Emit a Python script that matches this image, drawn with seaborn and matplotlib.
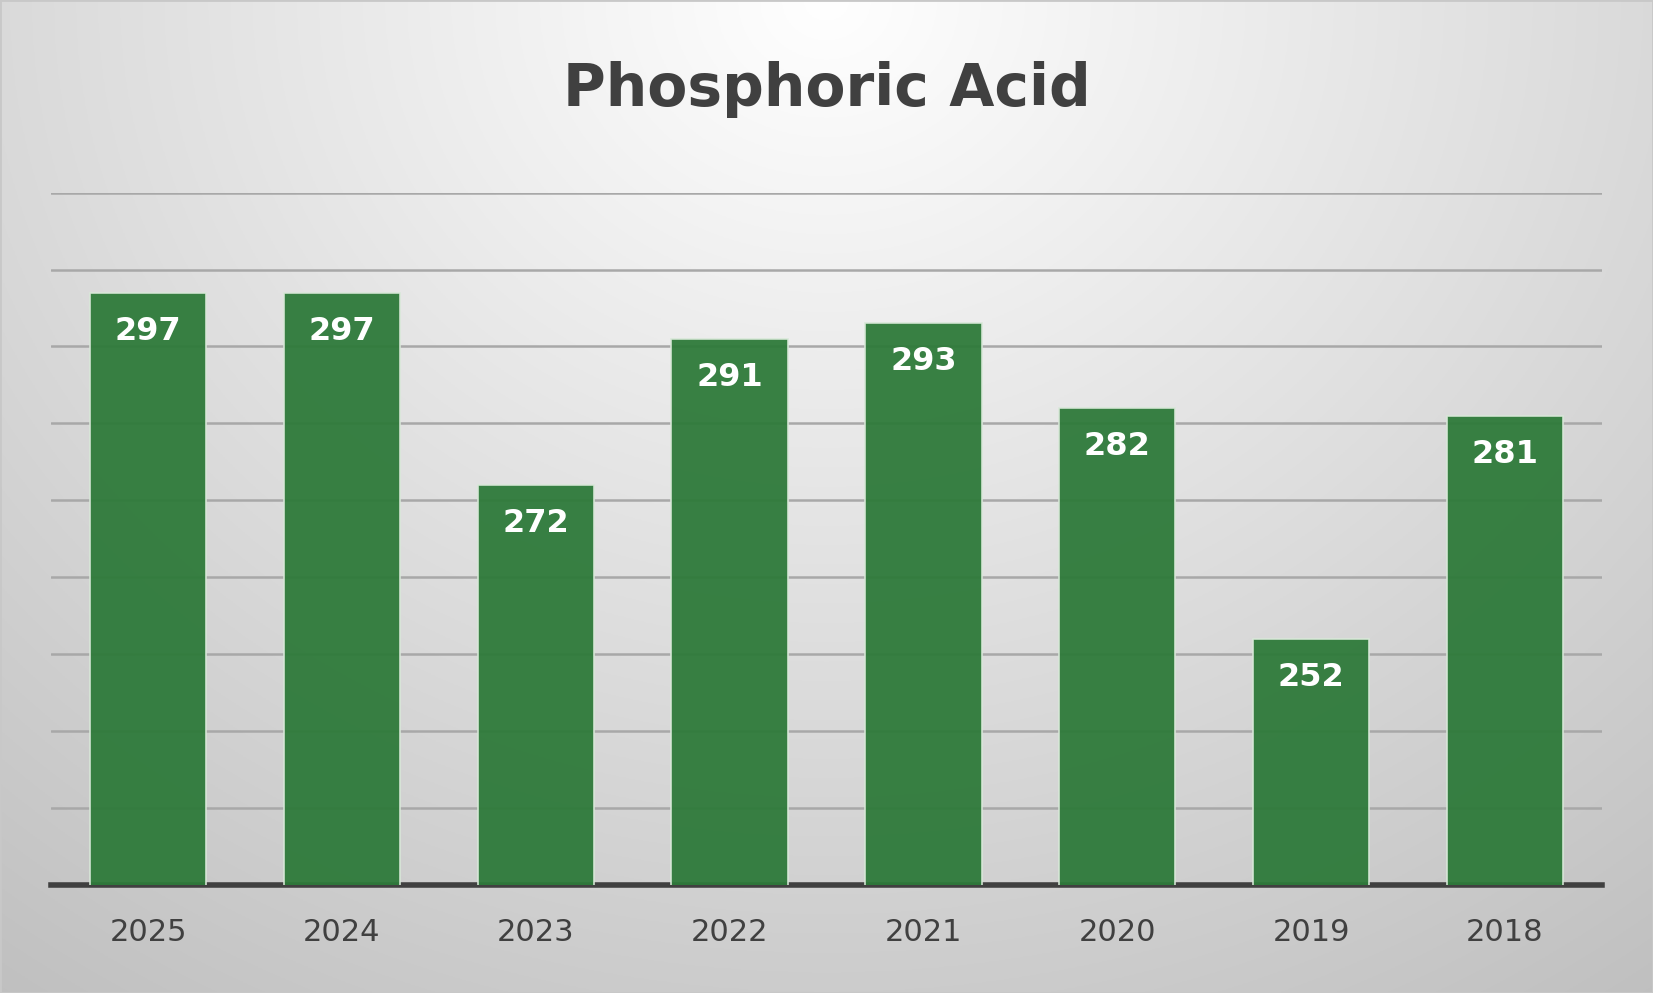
import numpy as np
import pandas as pd
import matplotlib
matplotlib.use("Agg")
import matplotlib.pyplot as plt
import seaborn as sns

years = ["2025", "2024", "2023", "2022", "2021", "2020", "2019", "2018"]
values = [297, 297, 272, 291, 293, 282, 252, 281]

sns.set_theme(style="white")
plt.rcParams['font.family'] = ['DejaVu Sans']

fig = plt.figure(figsize=(16.53, 9.93), dpi=100)
# radial gradient background
bg = fig.add_axes([0, 0, 1, 1], zorder=-10)
yy, xx = np.mgrid[0:1:400j, 0:1:660j]
r = np.sqrt(((xx - 0.5) / 0.75) ** 2 + ((yy - 0.0) / 1.1) ** 2)
g = np.clip(1.0 - 0.22 * r, 0, 1)
bg.imshow(np.dstack([g, g, g]), aspect="auto", extent=[0, 1, 0, 1], origin="upper")
bg.set_axis_off()
for s in ["left", "right", "top", "bottom"]:
    pass
fig.patches.append(plt.Rectangle((0, 0), 1, 1, transform=fig.transFigure,
                                 fill=False, edgecolor="#c8c8c8", lw=2))

ax = fig.add_axes([0.031, 0.109, 0.938, 0.697])
ax.patch.set_alpha(0)
df = pd.DataFrame({"year": years, "value": values})
sns.barplot(data=df, x="year", y="value", color="#2e7a3a", width=0.6,
            saturation=1, edgecolor="#d8e8d8", linewidth=1.2, ax=ax, zorder=3)
for p in ax.patches:
    p.set_alpha(0.95)
ax.set_ylim(220, 310)
ax.set_yticks(np.arange(230, 311, 10))
ax.yaxis.grid(True, color="#a8a8a8", lw=1.8, zorder=0)
ax.set_axisbelow(True)
ax.tick_params(axis="y", left=False, labelleft=False)
ax.tick_params(axis="x", bottom=False, labelsize=22, labelcolor="#404040", pad=18)
ax.set_xlabel("")
ax.set_ylabel("")
for s in ["left", "right", "top"]:
    ax.spines[s].set_visible(False)
ax.spines["bottom"].set_color("#404040")
ax.spines["bottom"].set_linewidth(4)
ax.set_xlim(-0.5, len(years) - 0.5)
for i, v in enumerate(values):
    ax.text(i, v - 3, str(v), ha="center", va="top", color="white",
            fontsize=23, fontweight="bold", zorder=5)

fig.text(0.5, 0.91, "Phosphoric Acid", ha="center", va="center",
         fontsize=42, fontweight="bold", color="#404040")

fig.savefig("out.png", dpi=100)
